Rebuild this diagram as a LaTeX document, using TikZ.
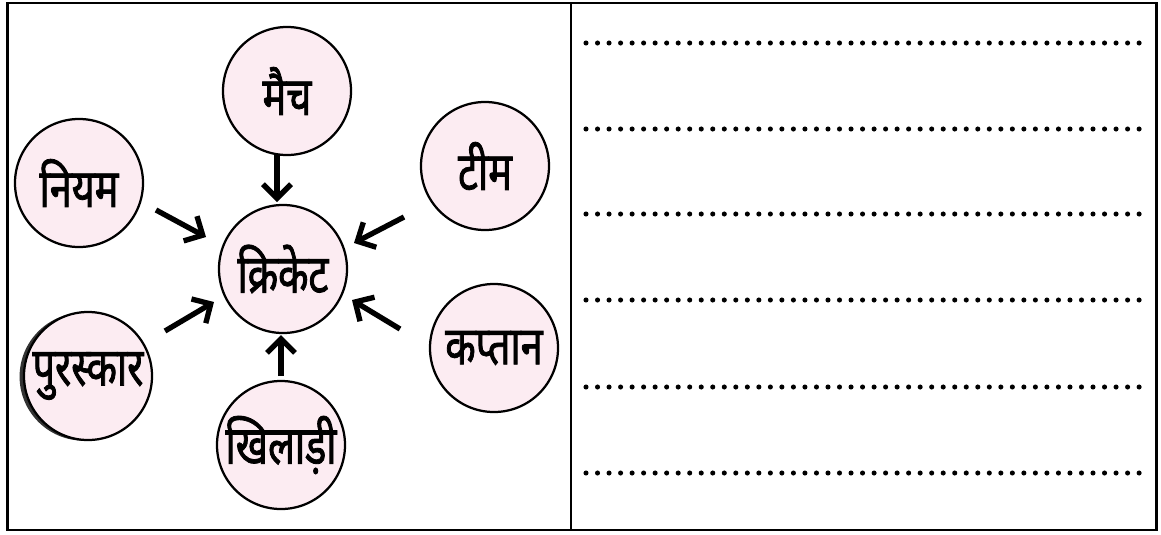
\documentclass[tikz,border=0pt]{standalone}
\usepackage{fontspec}
\newfontfamily\devfont[Script=Devanagari, FakeBold=1.5, FakeStretch=0.74]{Noto Sans}
\usepackage{tikz}
\usetikzlibrary{arrows.meta, shadows}
\definecolor{bubblePink}{RGB}{252,236,242}

\begin{document}
\begin{tikzpicture}[x=0.025cm, y=-0.025cm,
    bubble/.style={circle, draw, line width=1.6pt, fill=bubblePink, minimum size=3.2cm, inner sep=0pt, font=\devfont\fontsize{38}{40}\selectfont},
    pointer/.style={-{Straight Barb[length=10pt, width=20pt]}, line width=3.8pt},
    dotrow/.style={line width=3.6pt, line cap=round, dash pattern=on 0pt off 0.288cm}]
  \useasboundingbox (0,0) rectangle (1161,534);
  % Frame
  \draw[line width=2.1pt] (7.5,3) rectangle (1156.5,530);
  \draw[line width=1.8pt] (571,3) -- (571,530);
  % Bubbles
  \node[bubble] (cricket) at (283,269) {क्रिकेट};
  \node[bubble] (maich) at (287,91) {मैच};
  \node[bubble] (team) at (485,166) {टीम};
  \node[bubble] (niyam) at (79,183) {नियम};
  \node[bubble, drop shadow={shadow xshift=-1.1mm, shadow yshift=-0.15mm, fill=black!80, opacity=1}] (puraskar) at (88,376) {पुरस्कार};
  \node[bubble] (kaptan) at (494,348) {कप्तान};
  \node[bubble] (khiladi) at (281,445) {खिलाड़ी};
  % Arrows
  \draw[pointer] ([shift={(-10,64)}]maich.center) -- ([shift={(-6,-67)}]cricket.center);
  \draw[pointer] ([shift={(77,27)}]niyam.center) -- ([shift={(-77,-32)}]cricket.center);
  \draw[pointer] ([shift={(-81,51)}]team.center) -- ([shift={(71,-26)}]cricket.center);
  \draw[pointer] ([shift={(77,-45)}]puraskar.center) -- ([shift={(-69,33)}]cricket.center);
  \draw[pointer] ([shift={(-94,-19)}]kaptan.center) -- ([shift={(69,31)}]cricket.center);
  \draw[pointer] ([shift={(0,-69)}]khiladi.center) -- ([shift={(-2,66)}]cricket.center);
  % Answer lines
  \foreach \y in {43,129,214,300,387,473}
    \draw[dotrow] (586,\y) -- (1139.5,\y);
\end{tikzpicture}
\end{document}
